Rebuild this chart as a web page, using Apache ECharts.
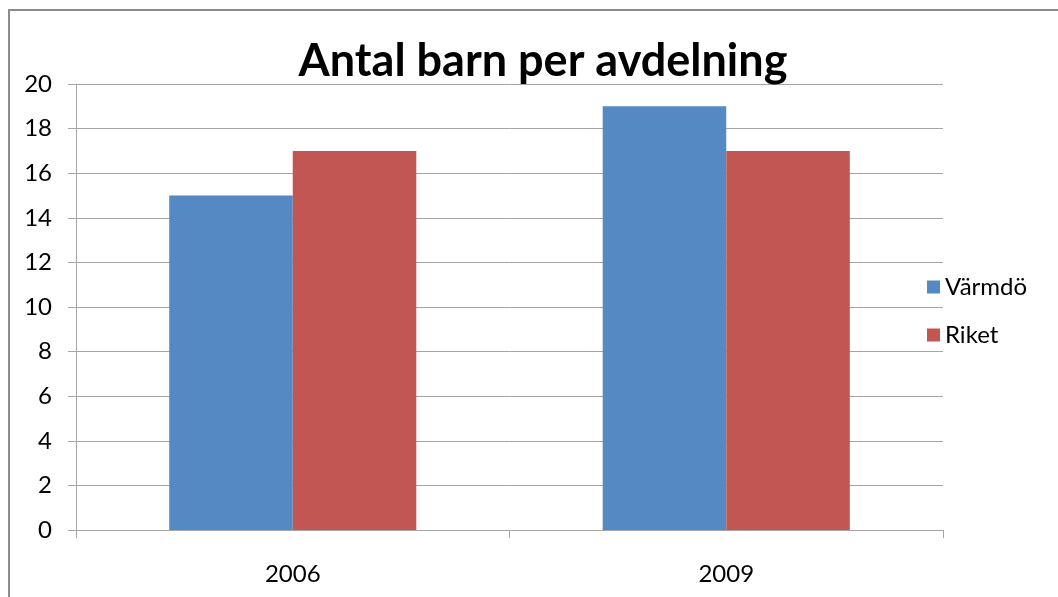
<!DOCTYPE html>
<html>
<head>
<meta charset="utf-8">
<script src="https://cdn.jsdelivr.net/npm/echarts@6/dist/echarts.min.js"></script>
<style>
  html, body { margin: 0; padding: 0; background: #fff; }
  #chart { width: 1058px; height: 597px; }
</style>
</head>
<body>
<div id="chart"></div>
<script>
// data
var years = ['2006', '2009'];
var varmdo = [15, 19];
var riket = [17, 17];

var myChart = echarts.init(document.getElementById('chart'));
var gray = '#a6a6a6';
var font = 'Lato, "Open Sans", sans-serif';

var option = {
    animation: false,
    backgroundColor: '#fff',
    title: {
        text: 'Antal barn per avdelning',
        left: 538,
        textAlign: 'center',
        top: 34,
        textStyle: { fontFamily: font, fontWeight: 'bold', fontSize: 45, color: '#000' }
    },
    // outer frame of the chart
    graphic: [{
        type: 'rect',
        shape: { x: 9, y: 10, width: 1100, height: 700 },
        style: { fill: 'none', stroke: '#8c8c8c', lineWidth: 2 },
        silent: true
    }],
    legend: {
        orient: 'vertical',
        left: 922,
        top: 270,
        itemWidth: 13,
        itemHeight: 13,
        itemGap: 24,
        icon: 'rect',
        textStyle: { fontFamily: font, fontSize: 24, color: '#000' },
        data: ['Värmdö', 'Riket']
    },
    grid: { left: 76, right: 115, top: 84, bottom: 67, containLabel: false },
    xAxis: {
        type: 'category',
        data: years,
        axisLine: { lineStyle: { color: gray } },
        axisTick: { show: true, alignWithLabel: false, length: 8, lineStyle: { color: gray } },
        axisLabel: { margin: 32, fontFamily: font, fontSize: 24, color: '#000' }
    },
    yAxis: {
        type: 'value',
        min: 0,
        max: 20,
        interval: 2,
        axisLine: { show: true, lineStyle: { color: gray } },
        axisTick: { show: true, length: 8, lineStyle: { color: gray } },
        splitLine: { lineStyle: { color: gray } },
        axisLabel: { margin: 24, fontFamily: font, fontSize: 24, color: '#000' }
    },
    series: [{
        name: 'Värmdö',
        type: 'bar',
        data: varmdo,
        barGap: 0,
        barCategoryGap: '43%',
        itemStyle: { color: '#5589c4' }
    }, {
        name: 'Riket',
        type: 'bar',
        data: riket,
        itemStyle: { color: '#c25653' }
    }]
};
myChart.setOption(option);
</script>
</body>
</html>
